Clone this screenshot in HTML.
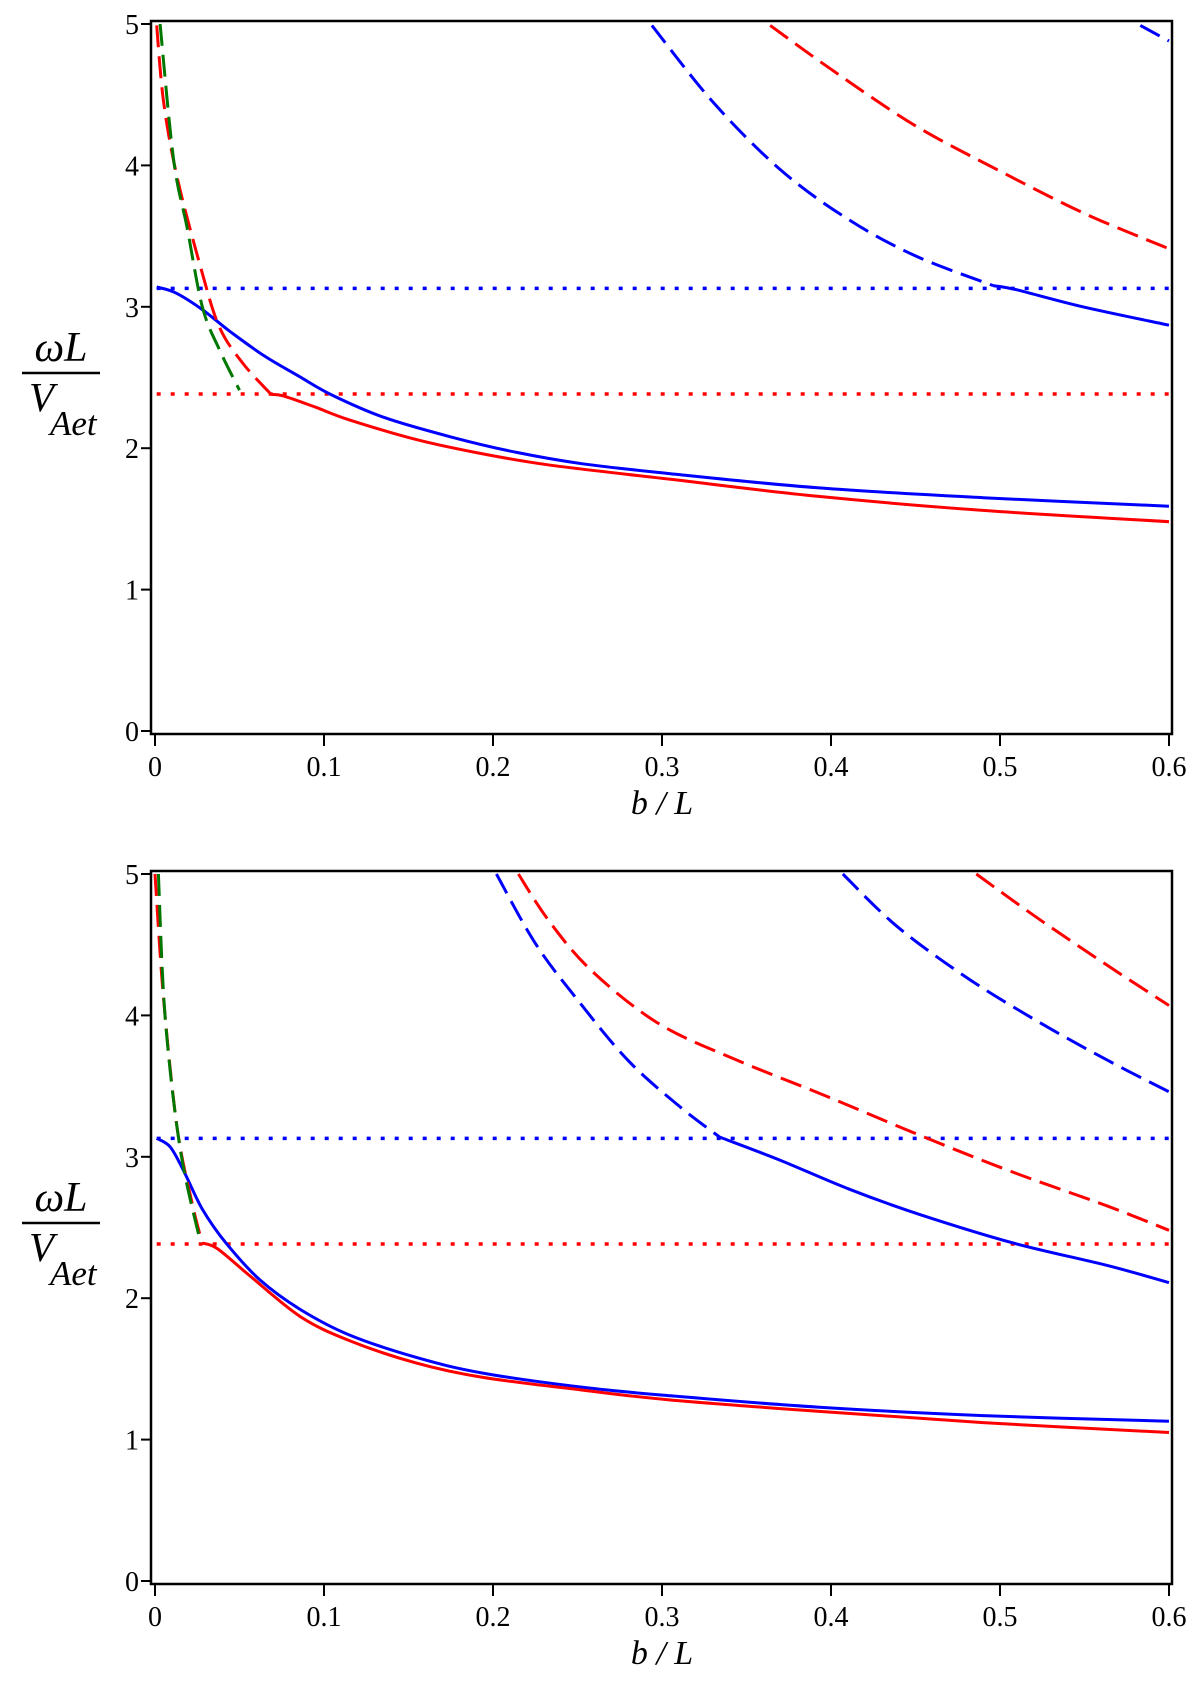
<!DOCTYPE html>
<html><head><meta charset="utf-8"><style>
html,body{margin:0;padding:0;background:#fff;}
svg{display:block;}
text{font-family:"Liberation Serif",serif;fill:#000;}
</style></head><body>
<svg id="fig" width="1200" height="1690" viewBox="0 0 1200 1690" xmlns="http://www.w3.org/2000/svg"></svg>
<script>
// ---- data (x = b/L, y = ωL/V_Aet) ----
const xTicks = [0, 0.1, 0.2, 0.3, 0.4, 0.5, 0.6];
const xTickLabels = ["0", "0.1", "0.2", "0.3", "0.4", "0.5", "0.6"];
const yTicks = [0, 1, 2, 3, 4, 5];
const yTickLabels = ["0", "1", "2", "3", "4", "5"];
const blueAsymptote = 3.13;
const redAsymptote = 2.383;

// top panel
const topBlueSolidX = [0.001,0.012,0.028,0.045,0.065,0.085,0.104,0.135,0.175,0.214,0.253,0.305,0.392,0.49,0.6];
const topBlueSolidY = [3.14,3.10,2.98,2.82,2.65,2.51,2.38,2.22,2.08,1.97,1.89,1.82,1.72,1.65,1.59];
const topRedSolidX = [0.069,0.076,0.095,0.115,0.155,0.194,0.234,0.305,0.392,0.49,0.6];
const topRedSolidY = [2.38,2.37,2.29,2.20,2.06,1.96,1.88,1.78,1.66,1.56,1.48];
const topRedDashX = [0.001,0.005,0.013,0.027,0.038,0.052,0.068];
const topRedDashY = [4.99,4.46,3.92,3.28,2.86,2.60,2.39];
const topGreenDashX = [0.003,0.011,0.019,0.028,0.038,0.050];
const topGreenDashY = [5.0,4.04,3.56,3.0,2.70,2.41];
const topBlueDash2X = [0.294,0.33,0.37,0.41,0.45,0.496];
const topBlueDash2Y = [4.99,4.45,3.97,3.62,3.36,3.15];
const topBlueSolid2X = [0.496,0.51,0.549,0.6];
const topBlueSolid2Y = [3.15,3.12,3.0,2.87];
const topRedDash2X = [0.364,0.40,0.45,0.50,0.55,0.6];
const topRedDash2Y = [4.99,4.68,4.28,3.96,3.66,3.41];
const topBlueDash3X = [0.583,0.6];
const topBlueDash3Y = [4.99,4.88];

// bottom panel
const botBlueSolidX = [0.001,0.009,0.017,0.028,0.042,0.062,0.086,0.115,0.155,0.194,0.253,0.305,0.392,0.49,0.6];
const botBlueSolidY = [3.13,3.07,2.90,2.63,2.39,2.13,1.92,1.74,1.58,1.47,1.37,1.31,1.23,1.17,1.13];
const botRedSolidX = [0.028,0.037,0.056,0.086,0.115,0.155,0.194,0.253,0.305,0.392,0.49,0.6];
const botRedSolidY = [2.39,2.35,2.16,1.87,1.70,1.54,1.44,1.35,1.28,1.20,1.12,1.05];
const botRedDashX = [0.0,0.005,0.013,0.022,0.028];
const botRedDashY = [5.0,4.13,3.21,2.67,2.39];
const botGreenDashX = [0.002,0.006,0.015,0.027];
const botGreenDashY = [5.0,3.99,3.05,2.39];
const botBlueDash2X = [0.202,0.225,0.25,0.28,0.31,0.334];
const botBlueDash2Y = [5.0,4.51,4.11,3.68,3.36,3.14];
const botBlueSolid2X = [0.334,0.369,0.411,0.453,0.508,0.564,0.6];
const botBlueSolid2Y = [3.14,2.98,2.77,2.59,2.39,2.23,2.11];
const botRedDash2X = [0.215,0.233,0.258,0.297,0.341,0.397,0.453,0.508,0.564,0.6];
const botRedDash2Y = [5.0,4.67,4.32,3.95,3.70,3.43,3.15,2.89,2.65,2.48];
const botBlueDash3X = [0.407,0.439,0.48,0.522,0.564,0.6];
const botBlueDash3Y = [5.0,4.63,4.27,3.96,3.68,3.46];
const botRedDash3X = [0.486,0.522,0.564,0.6];
const botRedDash3Y = [5.0,4.69,4.35,4.07];

const NS = "http://www.w3.org/2000/svg";
const svg = document.getElementById("fig");
function mk(tag, attrs, parent){
  const e = document.createElementNS(NS, tag);
  for (const k in attrs) e.setAttribute(k, attrs[k]);
  (parent||svg).appendChild(e);
  return e;
}
const RED = "#ff0000", BLUE = "#0000ff", GREEN = "#007800";

function smoothPath(pts){
  if (pts.length < 3) return pts.map((p,i)=>(i?"L":"M")+p[0].toFixed(1)+" "+p[1].toFixed(1)).join(" ");
  let d = "M" + pts[0][0].toFixed(1) + " " + pts[0][1].toFixed(1);
  for (let i = 0; i < pts.length - 1; i++){
    const p0 = pts[Math.max(0,i-1)], p1 = pts[i], p2 = pts[i+1], p3 = pts[Math.min(pts.length-1,i+2)];
    const c1x = p1[0] + (p2[0]-p0[0])/6, c1y = p1[1] + (p2[1]-p0[1])/6;
    const c2x = p2[0] - (p3[0]-p1[0])/6, c2y = p2[1] - (p3[1]-p1[1])/6;
    d += " C" + c1x.toFixed(1)+" "+c1y.toFixed(1)+" "+c2x.toFixed(1)+" "+c2y.toFixed(1)+" "+p2[0].toFixed(1)+" "+p2[1].toFixed(1);
  }
  return d;
}

function panel(off, series, pname){
  const g = mk("g", {});
  
  
  const sx = v => 155 + 1690 * v;
  const sy = v => 731 + off - 141.4 * v;
  const clipId = pname + "-clip";
  const cp = mk("clipPath", {id: clipId}, g);
  mk("rect", {x: 151, y: 21 + off, width: 1021, height: 713}, cp);
  const plot = mk("g", {"clip-path": "url(#" + clipId + ")"}, g);
  const ab = mk("line", {x1: sx(0.001), x2: 1172, y1: sy(blueAsymptote), y2: sy(blueAsymptote), stroke: BLUE, "stroke-width": 3.5, "stroke-dasharray": "4 10"}, plot);
  
  
  const ar = mk("line", {x1: sx(0.001), x2: 1172, y1: sy(redAsymptote), y2: sy(redAsymptote), stroke: RED, "stroke-width": 3.5, "stroke-dasharray": "4 10"}, plot);
  
  
  series.forEach(s => {
    const pts = s.x.map((xv, i) => [sx(xv), sy(s.y[i])]);
    const p = mk("path", {d: smoothPath(pts), fill: "none", stroke: s.c, "stroke-width": 3, "stroke-linejoin": "round"}, plot);
    if (s.dash) p.setAttribute("stroke-dasharray", "22 9");
    
    
  });
  const fr = mk("rect", {x: 151, y: 21 + off, width: 1021, height: 713, fill: "none", stroke: "#000", "stroke-width": 2.5}, g);
  
  
  xTicks.forEach((t, i) => {
    const tk = mk("line", {x1: sx(t), x2: sx(t), y1: 734 + off, y2: 746 + off, stroke: "#000", "stroke-width": 2}, g);
    
    
    const tl = mk("text", {x: sx(t), y: 776 + off, "font-size": 28, "text-anchor": "middle"}, g);
    tl.textContent = xTickLabels[i];
    
    
  });
  yTicks.forEach((t, i) => {
    const tk = mk("line", {x1: 141, x2: 151, y1: sy(t), y2: sy(t), stroke: "#000", "stroke-width": 2}, g);
    
    
    const tl = mk("text", {x: 139, y: sy(t) + 10, "font-size": 28, "text-anchor": "end"}, g);
    tl.textContent = yTickLabels[i];
    
    
  });
  const xt = mk("text", {x: 662, y: 814 + off, "font-size": 34, "text-anchor": "middle", "font-style": "italic"}, g);
  xt.textContent = "b / L";
  
  
  const yg = mk("g", {}, g);
  
  
  const n = mk("text", {x: 61, y: 361 + off, "font-size": 42, "text-anchor": "middle", "font-style": "italic"}, yg);
  n.textContent = "ωL";
  mk("line", {x1: 22, x2: 100, y1: 373 + off, y2: 373 + off, stroke: "#000", "stroke-width": 2.5}, yg);
  const v = mk("text", {x: 29, y: 411 + off, "font-size": 41, "font-style": "italic"}, yg);
  v.textContent = "V";
  const s = mk("text", {x: 50, y: 435 + off, "font-size": 35, "font-style": "italic"}, yg);
  s.textContent = "Aet";
}

panel(0, [
  {x: topBlueSolidX, y: topBlueSolidY, c: BLUE, n: "top-blue-solid"},
  {x: topRedSolidX, y: topRedSolidY, c: RED, n: "top-red-solid"},
  {x: topRedDashX, y: topRedDashY, c: RED, dash: 1, n: "top-red-dashed-1"},
  {x: topGreenDashX, y: topGreenDashY, c: GREEN, dash: 1, n: "top-green-dashed"},
  {x: topBlueDash2X, y: topBlueDash2Y, c: BLUE, dash: 1, n: "top-blue-dashed-2"},
  {x: topBlueSolid2X, y: topBlueSolid2Y, c: BLUE, n: "top-blue-solid-2"},
  {x: topRedDash2X, y: topRedDash2Y, c: RED, dash: 1, n: "top-red-dashed-2"},
  {x: topBlueDash3X, y: topBlueDash3Y, c: BLUE, dash: 1, n: "top-blue-dashed-3"}
], "top-panel");

panel(850, [
  {x: botBlueSolidX, y: botBlueSolidY, c: BLUE, n: "bottom-blue-solid"},
  {x: botRedSolidX, y: botRedSolidY, c: RED, n: "bottom-red-solid"},
  {x: botRedDashX, y: botRedDashY, c: RED, dash: 1, n: "bottom-red-dashed-1"},
  {x: botGreenDashX, y: botGreenDashY, c: GREEN, dash: 1, n: "bottom-green-dashed"},
  {x: botBlueDash2X, y: botBlueDash2Y, c: BLUE, dash: 1, n: "bottom-blue-dashed-2"},
  {x: botBlueSolid2X, y: botBlueSolid2Y, c: BLUE, n: "bottom-blue-solid-2"},
  {x: botRedDash2X, y: botRedDash2Y, c: RED, dash: 1, n: "bottom-red-dashed-2"},
  {x: botBlueDash3X, y: botBlueDash3Y, c: BLUE, dash: 1, n: "bottom-blue-dashed-3"},
  {x: botRedDash3X, y: botRedDash3Y, c: RED, dash: 1, n: "bottom-red-dashed-3"}
], "bottom-panel");
</script>
</body></html>
